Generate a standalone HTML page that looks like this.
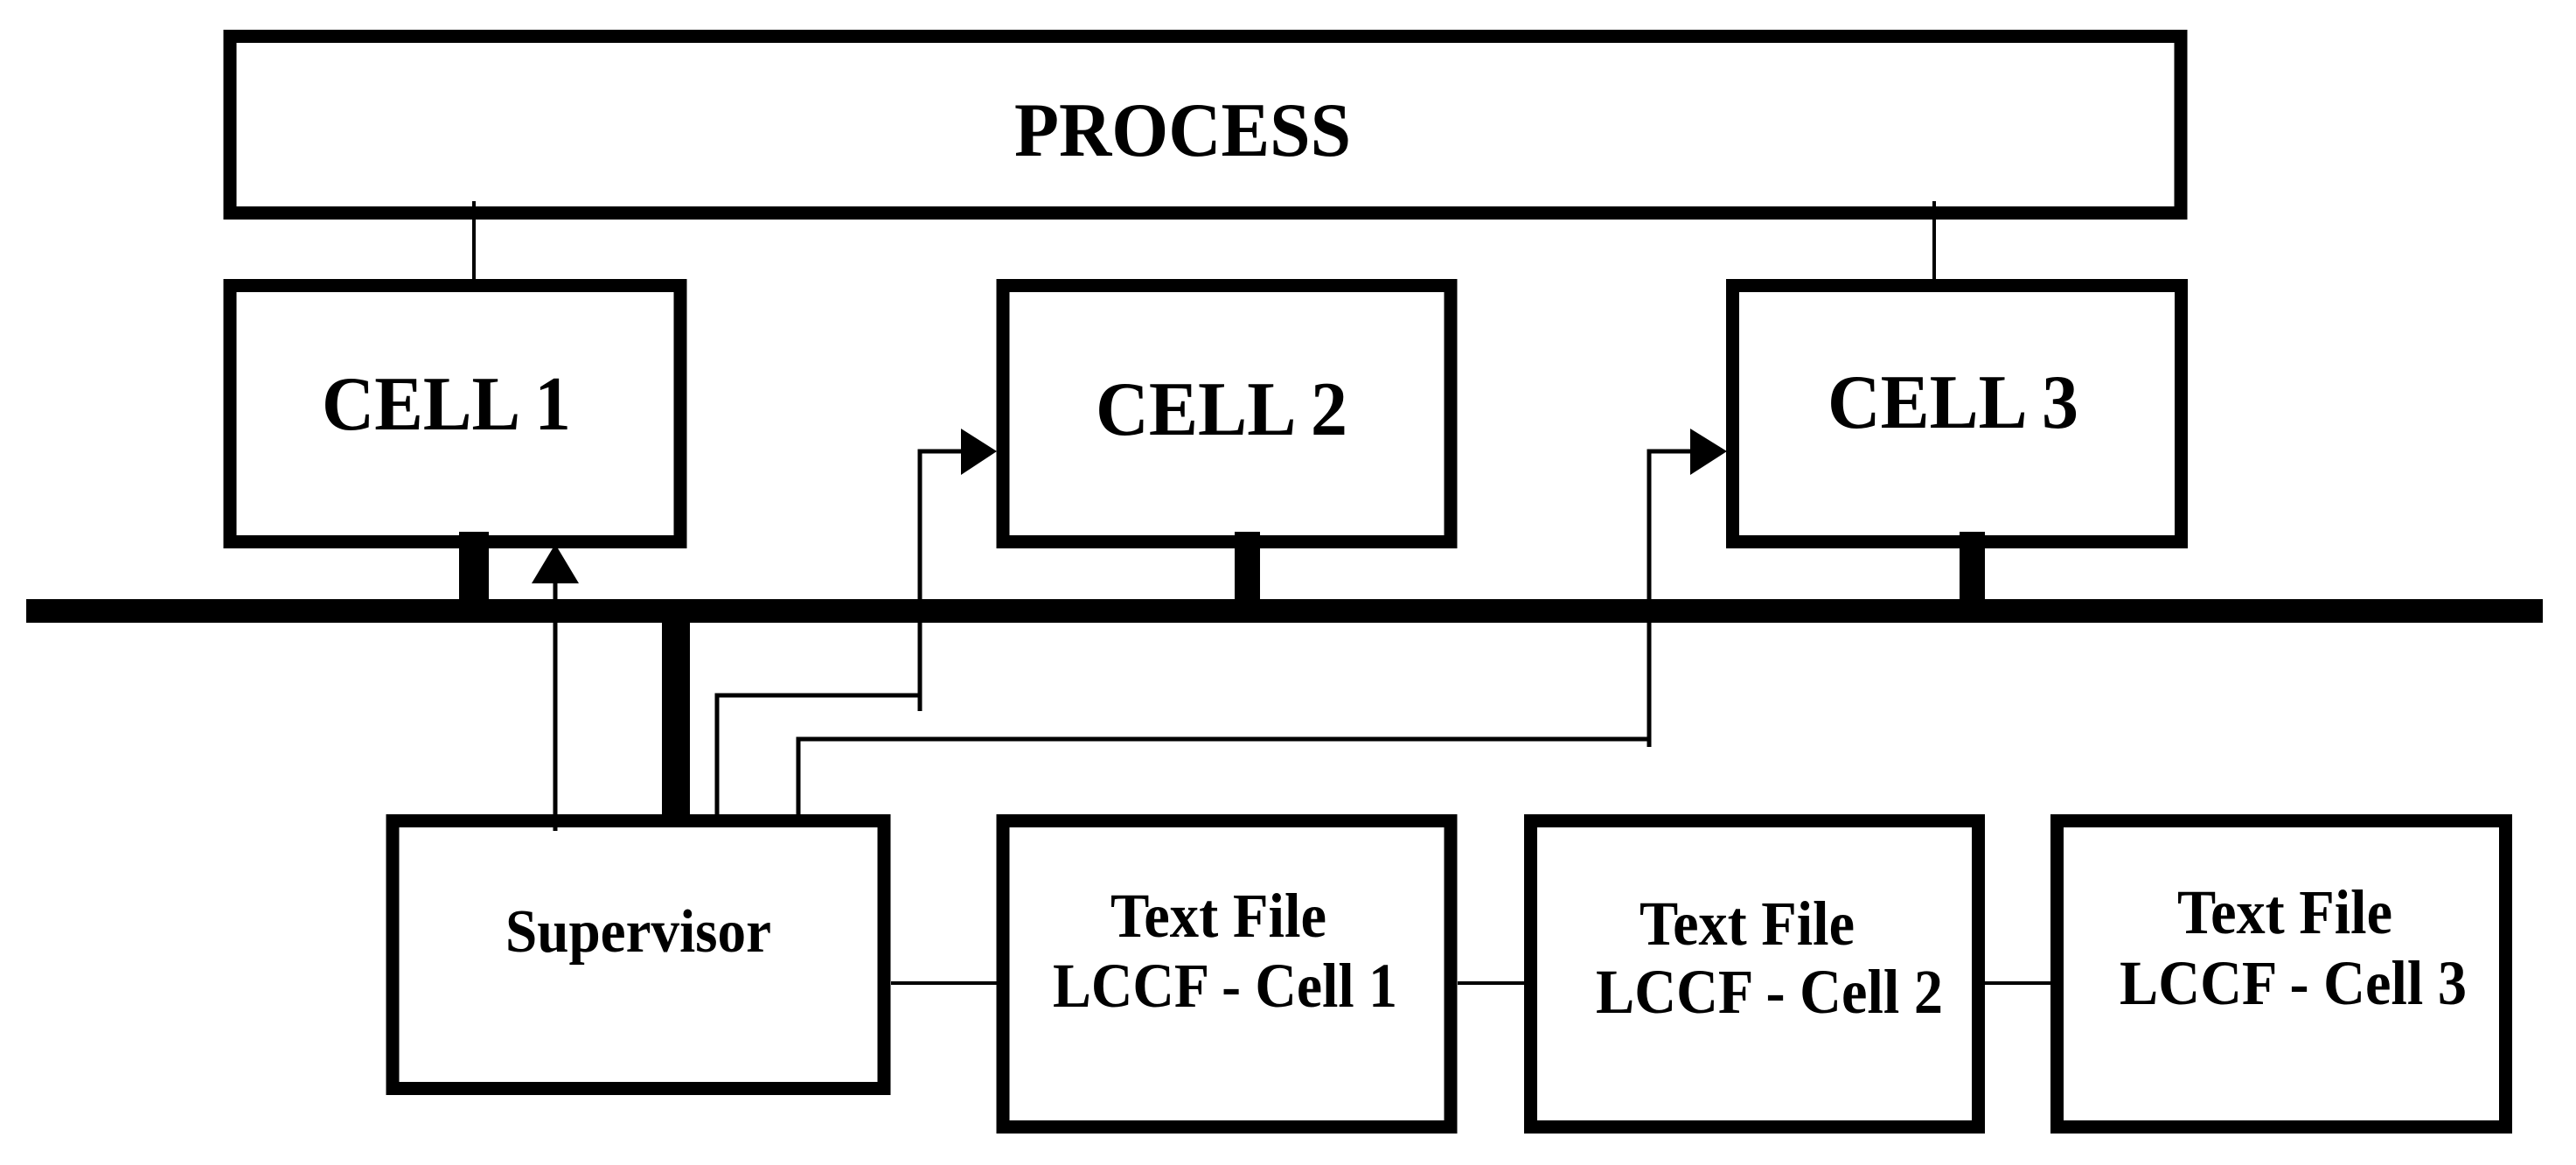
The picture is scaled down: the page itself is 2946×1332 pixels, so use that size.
<!DOCTYPE html>
<html><head><meta charset="utf-8"><style>
html,body{margin:0;padding:0;background:#fff;}
svg{display:block;}
text{font-family:"Liberation Serif",serif;font-weight:bold;fill:#000;}
</style></head><body>
<svg width="2946" height="1332" viewBox="0 0 2946 1332" xmlns="http://www.w3.org/2000/svg">
<g fill="none" stroke="#000" stroke-width="15">
<rect x="263" y="41.5" width="2231" height="202"/>
<rect x="263" y="326.5" width="515" height="293"/>
<rect x="1147" y="326.5" width="512" height="293"/>
<rect x="1981.5" y="326.5" width="513" height="293"/>
<rect x="449" y="938.5" width="562" height="306"/>
<rect x="1147" y="938.5" width="512" height="350"/>
<rect x="1750.5" y="938.5" width="512" height="350"/>
<rect x="2352.5" y="938.5" width="513" height="350"/>
</g>
<g stroke="#000" stroke-width="4" fill="none">
<line x1="542" y1="230" x2="542" y2="319"/>
<line x1="2212" y1="230" x2="2212" y2="319"/>
<line x1="1019" y1="1124" x2="1140" y2="1124"/>
<line x1="1667" y1="1124" x2="1743" y2="1124"/>
<line x1="2270" y1="1124" x2="2345" y2="1124"/>
</g>
<g stroke="#000" stroke-width="5" fill="none">
<line x1="635" y1="950" x2="635" y2="660"/>
<polyline points="820,931 820,795 1052,795"/>
<polyline points="1052,813 1052,516 1102,516"/>
<polyline points="913,931 913,845 1886,845"/>
<polyline points="1886,854 1886,516 1936,516"/>
</g>
<g fill="#000">
<rect x="30" y="685" width="2878" height="27"/>
<rect x="525" y="608" width="34" height="80"/>
<rect x="1412" y="608" width="29" height="80"/>
<rect x="2241" y="608" width="29" height="80"/>
<rect x="757" y="700" width="32" height="235"/>
<polygon points="608,667 662,667 635,622"/>
<polygon points="1099,490 1099,543 1140,516"/>
<polygon points="1933,490 1933,543 1975,516"/>
</g>
<text x="1160" y="178" font-size="88" textLength="385" lengthAdjust="spacingAndGlyphs">PROCESS</text>
<text x="368" y="491" font-size="88" textLength="285" lengthAdjust="spacingAndGlyphs">CELL 1</text>
<text x="1253" y="497" font-size="88" textLength="288" lengthAdjust="spacingAndGlyphs">CELL 2</text>
<text x="2090" y="489" font-size="88" textLength="287" lengthAdjust="spacingAndGlyphs">CELL 3</text>
<text x="578" y="1088" font-size="70" textLength="304" lengthAdjust="spacingAndGlyphs">Supervisor</text>
<text x="1270" y="1071" font-size="72" textLength="247" lengthAdjust="spacingAndGlyphs">Text File</text>
<text x="1204" y="1151" font-size="72" textLength="394" lengthAdjust="spacingAndGlyphs">LCCF - Cell 1</text>
<text x="1875" y="1080" font-size="72" textLength="246" lengthAdjust="spacingAndGlyphs">Text File</text>
<text x="1825" y="1158" font-size="72" textLength="397" lengthAdjust="spacingAndGlyphs">LCCF - Cell 2</text>
<text x="2490" y="1067" font-size="72" textLength="246" lengthAdjust="spacingAndGlyphs">Text File</text>
<text x="2424" y="1148" font-size="72" textLength="397" lengthAdjust="spacingAndGlyphs">LCCF - Cell 3</text>
</svg>
</body></html>
